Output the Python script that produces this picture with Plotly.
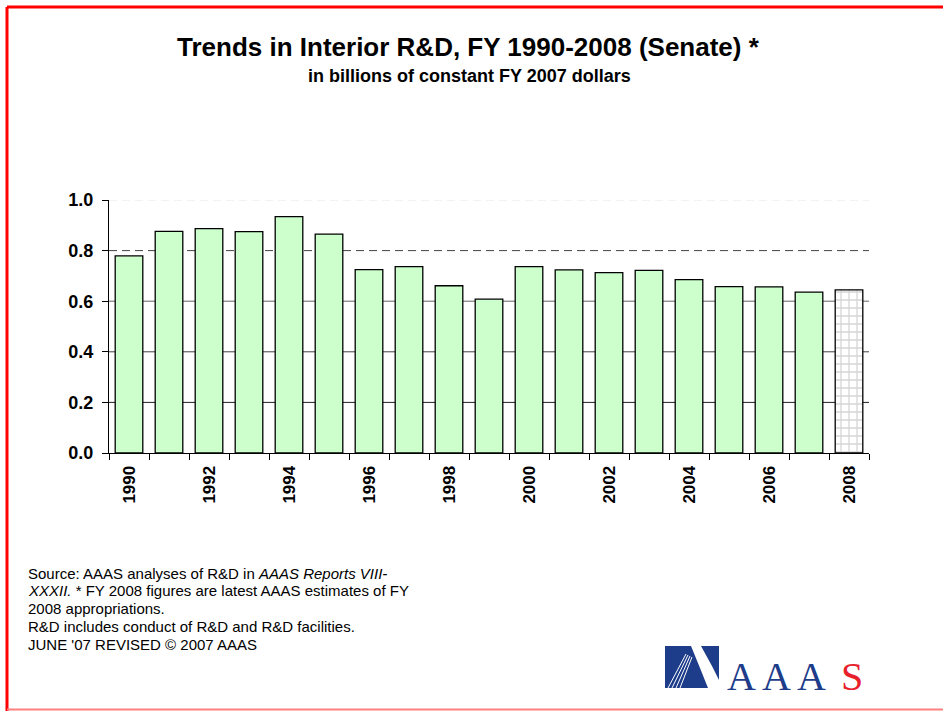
import plotly.graph_objects as go

# ---- data ----
years = list(range(1990, 2009))
values = [0.779, 0.876, 0.887, 0.875, 0.934, 0.865, 0.725, 0.737, 0.661, 0.608,
          0.737, 0.724, 0.713, 0.722, 0.685, 0.658, 0.657, 0.636, 0.645]
label_years = [1990, 1992, 1994, 1996, 1998, 2000, 2002, 2004, 2006, 2008]
label_text = [str(y) for y in label_years]
y_ticks = [0.0, 0.2, 0.4, 0.6, 0.8, 1.0]
y_tick_text = ["0.0", "0.2", "0.4", "0.6", "0.8", "1.0"]

title = "Trends in Interior R&D, FY 1990-2008 (Senate) *"
subtitle = "in billions of constant FY 2007 dollars"
source_lines = [
    "Source: AAAS analyses of R&D in <i>AAAS Reports VIII-</i>",
    "<i>XXXII.</i> * FY 2008 figures are latest AAAS estimates of FY",
    "2008 appropriations.",
    "R&D includes conduct of R&D and R&D facilities.",
    "JUNE '07 REVISED © 2007 AAAS",
]

# ---- layout geometry (pixels) ----
W, H = 943, 711
L, R, T, B = 109, 869, 200, 453


def px(x):
    return (x - L) / (R - L)


def py(y):
    return (B - y) / (B - T)


FONT = "Liberation Sans, Arial, sans-serif"

fig = go.Figure()

# regular bars (all but the estimate year)
fig.add_trace(go.Bar(
    x=years[:-1], y=values[:-1], width=0.69,
    marker=dict(color="#CCFFCC", line=dict(color="black", width=1.3)),
    showlegend=False, hoverinfo="x+y",
))
# estimate bar (patterned)
fig.add_trace(go.Bar(
    x=years[-1:], y=values[-1:], width=0.69,
    marker=dict(color="white", line=dict(color="black", width=1.3),
                pattern=dict(shape="+", fgcolor="#d6d6d6", bgcolor="white",
                             size=8, solidity=0.3, fillmode="replace")),
    showlegend=False, hoverinfo="x+y",
))

# gridlines
grid_style = {
    0.2: dict(color="#222222", width=1, dash="solid"),
    0.4: dict(color="#444444", width=1, dash="solid"),
    0.6: dict(color="#666666", width=1, dash="solid"),
    0.8: dict(color="#444444", width=1, dash="8px,5px"),
    1.0: dict(color="#e6e6e6", width=1, dash="8px,5px"),
}
shapes = []
for v in y_ticks:
    if v in grid_style:
        shapes.append(dict(type="line", xref="paper", yref="y", x0=0, x1=1,
                           y0=v, y1=v, line=grid_style[v], layer="below"))

# page border
shapes += [
    dict(type="line", xref="paper", yref="paper", x0=px(7), x1=px(W + 5),
         y0=py(7), y1=py(7), line=dict(color="#ff0000", width=3)),
    dict(type="line", xref="paper", yref="paper", x0=px(7), x1=px(7),
         y0=py(7), y1=py(H + 5), line=dict(color="#ff0000", width=3)),
    dict(type="line", xref="paper", yref="paper", x0=px(7), x1=px(W + 5),
         y0=py(709.5), y1=py(709.5), line=dict(color="#ff8080", width=2)),
]

# AAAS logo mark
blue = "#1d3c8a"
shapes.append(dict(type="rect", xref="paper", yref="paper",
                   x0=px(665), x1=px(719), y0=py(646), y1=py(688),
                   fillcolor=blue, line=dict(width=0)))
band = [(691, 646), (701, 646), (712, 666), (719, 680), (719, 688), (708, 688), (700, 668)]
path = "M " + " L ".join(f"{px(a):.5f},{py(b):.5f}" for a, b in band) + " Z"
shapes.append(dict(type="path", xref="paper", yref="paper", path=path,
                   fillcolor="white", line=dict(width=0)))
for (a0, b0, a1, b1) in [(686, 654, 668, 688), (688, 655, 672, 688),
                         (690, 656, 676, 688), (692, 657, 680, 688)]:
    shapes.append(dict(type="line", xref="paper", yref="paper",
                       x0=px(a0), y0=py(b0), x1=px(a1), y1=py(b1),
                       line=dict(color="white", width=1)))

annotations = [
    dict(text=title, xref="paper", yref="paper", x=px(468), y=py(47),
         showarrow=False, font=dict(family=FONT, size=26, color="black", weight="bold"),
         xanchor="center", yanchor="middle"),
    dict(text=subtitle, xref="paper", yref="paper", x=px(469), y=py(76),
         showarrow=False, font=dict(family=FONT, size=18, color="black", weight="bold"),
         xanchor="center", yanchor="middle"),
]
for i, line in enumerate(source_lines):
    annotations.append(dict(text=line, xref="paper", yref="paper", x=px(26),
                            y=py(573 + i * 17.8), showarrow=False, align="left",
                            xanchor="left", yanchor="middle",
                            font=dict(family=FONT, size=15, color="black")))
serif = "Liberation Serif, Times New Roman, serif"
for ch, cx, col in [("A", 741, blue), ("A", 776, blue), ("A", 811, blue), ("S", 852, "#e8202a")]:
    annotations.append(dict(text=ch, xref="paper", yref="paper", x=px(cx), y=py(676),
                            showarrow=False, xanchor="center", yanchor="middle",
                            font=dict(family=serif, size=40, color=col)))

fig.update_layout(
    width=W, height=H,
    margin=dict(l=L, r=W - R, t=T, b=H - B, pad=0),
    paper_bgcolor="white", plot_bgcolor="white",
    barmode="overlay",
    shapes=shapes, annotations=annotations,
    xaxis=dict(range=[1989.5, 2008.5], tickmode="array", tickvals=label_years,
               ticktext=label_text, tickangle=-90, ticks="", showgrid=False,
               showline=True, linecolor="black", linewidth=1, zeroline=False,
               ticklabelstandoff=5,
               tickfont=dict(family=FONT, size=17, color="black", weight="bold"),
               minor=dict(tick0=1989.5, dtick=1, ticks="outside", ticklen=6,
                          tickcolor="black", tickwidth=1, showgrid=False)),
    yaxis=dict(range=[0, 1.0], tickmode="array", tickvals=y_ticks, ticktext=y_tick_text,
               ticks="outside", ticklen=6, tickcolor="black", showgrid=False,
               showline=True, linecolor="black", linewidth=1, zeroline=False,
               ticklabelstandoff=5,
               tickfont=dict(family=FONT, size=18, color="black", weight="bold")),
)

fig.write_html("out.html", config={"displayModeBar": False},
               post_script="document.body.style.margin='0';document.body.style.overflow='hidden';")
